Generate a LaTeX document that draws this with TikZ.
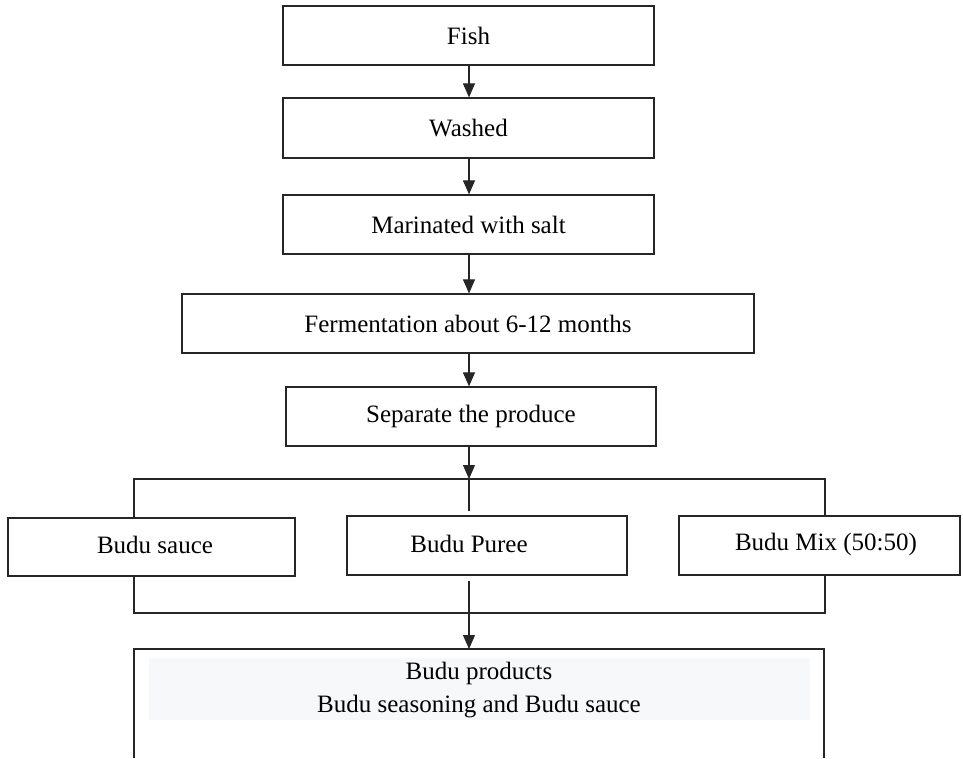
\documentclass[tikz,border=0pt]{standalone}
\usepackage{fontspec}
\setmainfont{Liberation Serif}
\usetikzlibrary{arrows.meta,calc}
\tikzset{
  box/.style={draw=black!85, line width=1.2pt, rectangle, inner sep=0pt},
  lbl/.style={inner sep=0pt, font=\fontsize{25}{33}\selectfont},
  conn/.style={draw=black!85, line width=1.1pt},
  arr/.style={conn, -{Triangle[width=12pt,length=14pt]}}
}
\begin{document}
\begin{tikzpicture}[x=1pt,y=-1pt]
\useasboundingbox (0,0) rectangle (963,758);
% process boxes
\node[box, lbl, minimum width=371pt, minimum height=59pt] (fish) at (468.5,35.5) {Fish};
\node[box, lbl, minimum width=371pt, minimum height=60pt] (washed) at (468.5,128) {Washed};
\node[box, lbl, minimum width=371pt, minimum height=59pt] (marin) at (468.5,224.5) {Marinated with salt};
\node[box, lbl, minimum width=572pt, minimum height=59pt] (ferm) at (468,323.5) {Fermentation about 6-12 months};
\node[box, lbl, minimum width=370pt, minimum height=59pt] (sep) at (471,416.5) {Separate the produce};
% product boxes
\node[box, minimum width=287pt, minimum height=58pt] (sauce) at (151.5,547) {};
\node[lbl] (saucet) at (155,545) {Budu sauce};
\node[box, minimum width=280pt, minimum height=59pt] (puree) at (487,545.5) {};
\node[lbl] (pureet) at (469,544) {Budu Puree};
\node[box, minimum width=281pt, minimum height=59pt] (mix) at (819.5,545.5) {};
\node[lbl] (mixt) at (826,544) {Budu Mix (50:50)};
% final box (open at the bottom)
\fill[fill={rgb,255:red,247;green,248;blue,249}] (149,658) rectangle (810,720);
\draw[conn, line width=1.2pt] (134,758) -- (134,649) -- (824,649) -- (824,758);
\node[lbl, align=center] (prod) at (479,690) {Budu products\\Budu seasoning and Budu sauce};
\coordinate (ptop) at (469,649);
% spine and bars
\coordinate (spine) at (469,0);
\coordinate (barL) at (134,479);
\coordinate (barM) at (469,479);
\coordinate (barR) at (825,479);
\coordinate (botL) at (134,613);
\coordinate (botR) at (825,613);
% connectors
\draw[arr] (fish.south -| spine) -- (washed.north -| spine);
\draw[arr] (washed.south -| spine) -- (marin.north -| spine);
\draw[arr] (marin.south -| spine) -- (ferm.north -| spine);
\draw[arr] (ferm.south -| spine) -- (sep.north -| spine);
\draw[arr] (sep.south -| spine) -- (barM);
\draw[conn, shorten >=4pt] (barM) -- (puree.north -| spine);
\draw[conn] (barL |- sauce.north) -- (barL) -- (barR) -- (barR |- mix.north);
\draw[conn] (botL |- sauce.south) -- (botL) -- (botR) -- (botR |- mix.south);
\draw[arr, shorten <=5pt] (puree.south -| spine) -- (ptop);
\end{tikzpicture}
\end{document}
